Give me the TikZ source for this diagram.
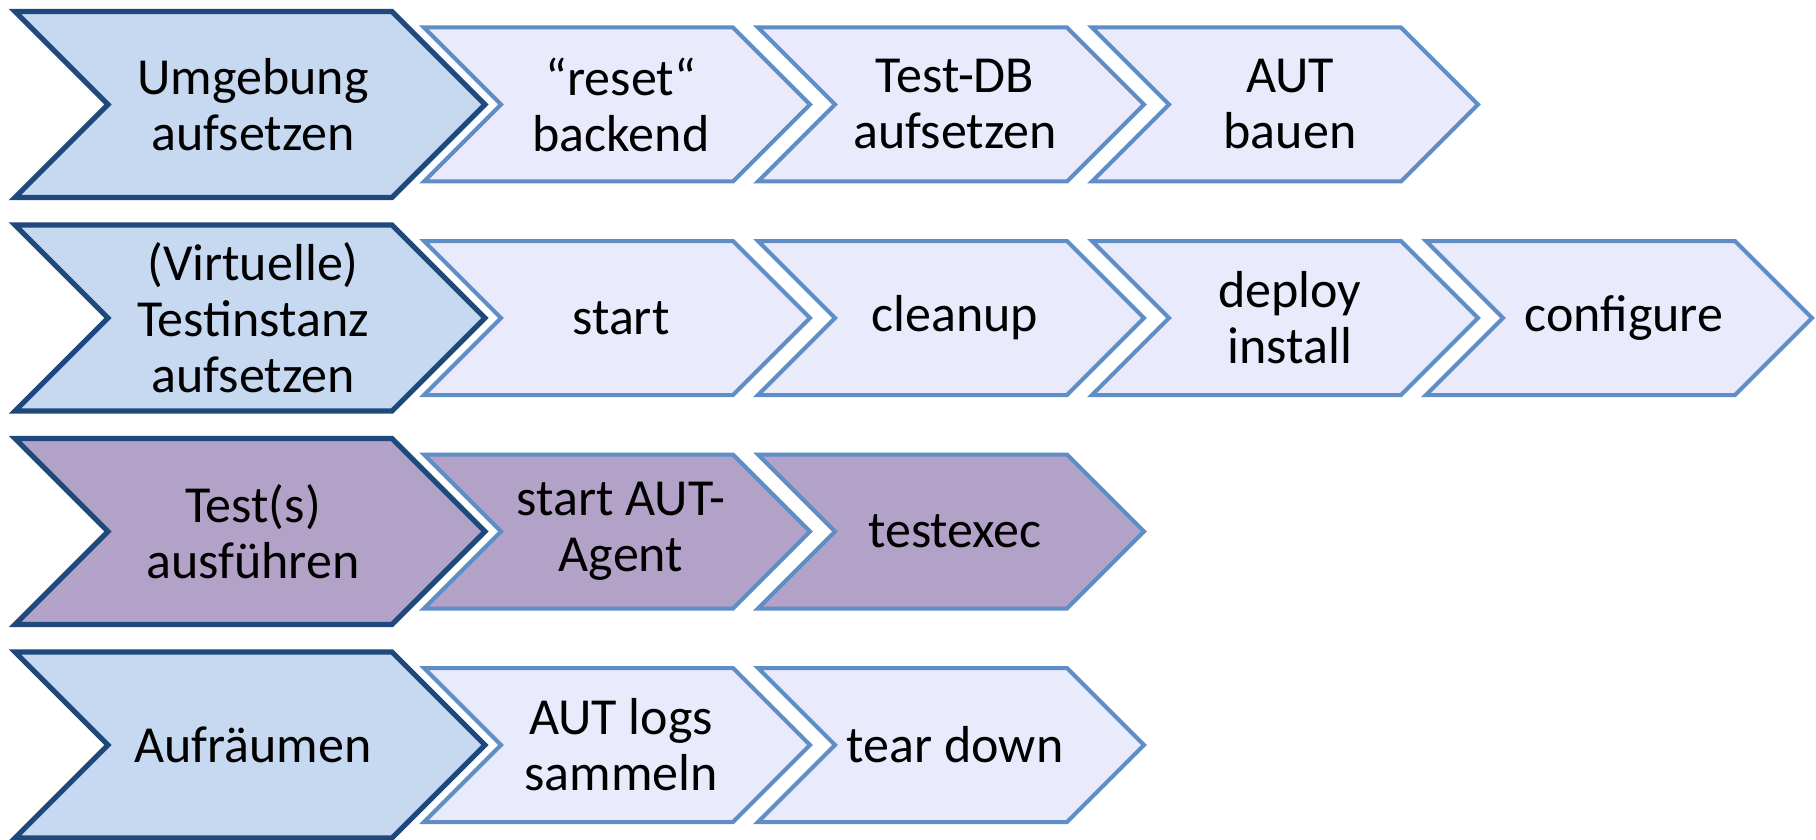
\documentclass[tikz,border=0pt]{standalone}
\usepackage{fontspec}
\setmainfont{Carlito}
\usepackage{tikz}
\usepackage{color}

\definecolor{stepdark}{HTML}{1F497D}
\definecolor{stepedge}{HTML}{5F8DC6}
\definecolor{stepblue}{HTML}{C6D9F1}
\definecolor{steplight}{HTML}{E9EAFB}
\definecolor{steppurple}{HTML}{B2A2C7}

\begin{document}
\begin{tikzpicture}[x=0.5pt,y=-0.5pt,
	bigstep/.style={draw=stepdark,line width=2.6pt,fill=stepblue},
	smallstep/.style={draw=stepedge,line width=2pt,fill=steplight},
	steptext/.style={align=center,inner sep=0pt,font=\fontsize{26}{28}\selectfont}]
	\useasboundingbox (0,0) rectangle (1816,840);
	% row 1
	\draw[bigstep] (15,11.5) -- ++(377,0) -- ++(93,93) -- ++(-93,93) -- ++(-377,0) -- ++(93,-93) -- cycle;
	\draw[smallstep] (424,27.5) -- ++(309,0) -- ++(77,77) -- ++(-77,77) -- ++(-309,0) -- ++(77,-77) -- cycle;
	\draw[smallstep] (758,27.5) -- ++(309,0) -- ++(77,77) -- ++(-77,77) -- ++(-309,0) -- ++(77,-77) -- cycle;
	\draw[smallstep] (1092,27.5) -- ++(309,0) -- ++(77,77) -- ++(-77,77) -- ++(-309,0) -- ++(77,-77) -- cycle;
	\node[steptext] (env) at (253,104.5) {Umgebung\\aufsetzen};
	\node[steptext] (reset) at (621,104.5) {“reset“\\backend};
	\node[steptext] (testdb) at (955,104.5) {Test-DB\\aufsetzen};
	\node[steptext] (build) at (1290,104.5) {AUT\\bauen};
	% row 2
	\draw[bigstep] (15,225) -- ++(377,0) -- ++(93,93) -- ++(-93,93) -- ++(-377,0) -- ++(93,-93) -- cycle;
	\draw[smallstep] (424,241) -- ++(309,0) -- ++(77,77) -- ++(-77,77) -- ++(-309,0) -- ++(77,-77) -- cycle;
	\draw[smallstep] (758,241) -- ++(309,0) -- ++(77,77) -- ++(-77,77) -- ++(-309,0) -- ++(77,-77) -- cycle;
	\draw[smallstep] (1092,241) -- ++(309,0) -- ++(77,77) -- ++(-77,77) -- ++(-309,0) -- ++(77,-77) -- cycle;
	\draw[smallstep] (1426,241) -- ++(309,0) -- ++(77,77) -- ++(-77,77) -- ++(-309,0) -- ++(77,-77) -- cycle;
	\node[steptext] (inst) at (253,318) {(Virtuelle)\\Testinstanz\\aufsetzen};
	\node[steptext] (start) at (621,318) {start};
	\node[steptext] (cleanup) at (955,318) {cleanup};
	\node[steptext] (deploy) at (1290,318) {deploy\\install};
	\node[steptext] (config) at (1624,318) {configure};
	% row 3
	\draw[bigstep,fill=steppurple] (15,438.5) -- ++(377,0) -- ++(93,93) -- ++(-93,93) -- ++(-377,0) -- ++(93,-93) -- cycle;
	\draw[smallstep,fill=steppurple] (424,454.5) -- ++(309,0) -- ++(77,77) -- ++(-77,77) -- ++(-309,0) -- ++(77,-77) -- cycle;
	\draw[smallstep,fill=steppurple] (758,454.5) -- ++(309,0) -- ++(77,77) -- ++(-77,77) -- ++(-309,0) -- ++(77,-77) -- cycle;
	\node[steptext] (run) at (253,531.5) {Test(s)\\ausführen};
	\node[steptext] (agent) at (621,531.5) {start AUT-\\Agent};
	\node[steptext] (exec) at (955,531.5) {testexec};
	% row 4
	\draw[bigstep] (15,652) -- ++(377,0) -- ++(93,93) -- ++(-93,93) -- ++(-377,0) -- ++(93,-93) -- cycle;
	\draw[smallstep] (424,668) -- ++(309,0) -- ++(77,77) -- ++(-77,77) -- ++(-309,0) -- ++(77,-77) -- cycle;
	\draw[smallstep] (758,668) -- ++(309,0) -- ++(77,77) -- ++(-77,77) -- ++(-309,0) -- ++(77,-77) -- cycle;
	\node[steptext] (clean) at (253,745) {Aufräumen};
	\node[steptext] (logs) at (621,745) {AUT logs\\sammeln};
	\node[steptext] (down) at (955,745) {tear down};
\end{tikzpicture}
\end{document}
